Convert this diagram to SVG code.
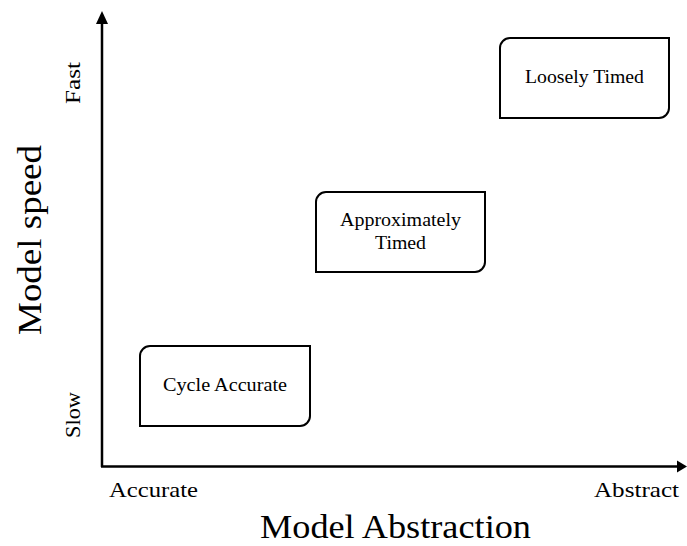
<svg xmlns="http://www.w3.org/2000/svg" width="687" height="546" viewBox="0 0 687 546">
<style>
.box{fill:#fff;stroke:#000;stroke-width:2}
.axis{stroke:#000;stroke-width:2.5;fill:none}
.t{font-family:"Liberation Serif","DejaVu Serif",serif;fill:#000;text-anchor:middle}
.lbl{font-size:18px}
.tick{font-size:21px}
.big{font-size:33px}
</style>
<rect width="687" height="546" fill="#fff"/>
<g id="connectors">
<line class="axis" x1="102" y1="467" x2="102" y2="22"/>
<polygon points="102,11 96,24 108,24" fill="#000"/>
<line class="axis" x1="101" y1="466.5" x2="679" y2="466.5"/>
<polygon points="687,466.5 677,460.5 677,472.5" fill="#000"/>
</g>
<g id="axis-labels">
<text class="t tick" x="153.5" y="497" textLength="89" lengthAdjust="spacingAndGlyphs">Accurate</text>
<text class="t tick" x="636.5" y="497" textLength="85" lengthAdjust="spacingAndGlyphs">Abstract</text>
<text class="t big" x="395.5" y="538" textLength="271" lengthAdjust="spacingAndGlyphs">Model Abstraction</text>
<text class="t tick" transform="translate(80,83) rotate(-90)" textLength="42" lengthAdjust="spacingAndGlyphs">Fast</text>
<text class="t tick" transform="translate(80,415) rotate(-90)" textLength="46" lengthAdjust="spacingAndGlyphs">Slow</text>
<text class="t big" transform="translate(41,240) rotate(-90)" textLength="190" lengthAdjust="spacingAndGlyphs">Model speed</text>
</g>
<g id="cycle-accurate">
<path class="box" d="M150,346 H310 V416 A10,10 0 0 1 300,426 H140 V356 A10,10 0 0 1 150,346 Z"/>
<text class="t lbl" x="225" y="391" textLength="124" lengthAdjust="spacingAndGlyphs">Cycle Accurate</text>
</g>
<g id="approximately-timed">
<path class="box" d="M326,192 H485 V262 A10,10 0 0 1 475,272 H316 V202 A10,10 0 0 1 326,192 Z"/>
<text class="t lbl" x="400.5" y="226" textLength="121" lengthAdjust="spacingAndGlyphs">Approximately</text>
<text class="t lbl" x="400.5" y="249" textLength="51" lengthAdjust="spacingAndGlyphs">Timed</text>
</g>
<g id="loosely-timed">
<path class="box" d="M510,38 H669 V108 A10,10 0 0 1 659,118 H500 V48 A10,10 0 0 1 510,38 Z"/>
<text class="t lbl" x="584.5" y="83" textLength="119" lengthAdjust="spacingAndGlyphs">Loosely Timed</text>
</g>
</svg>
